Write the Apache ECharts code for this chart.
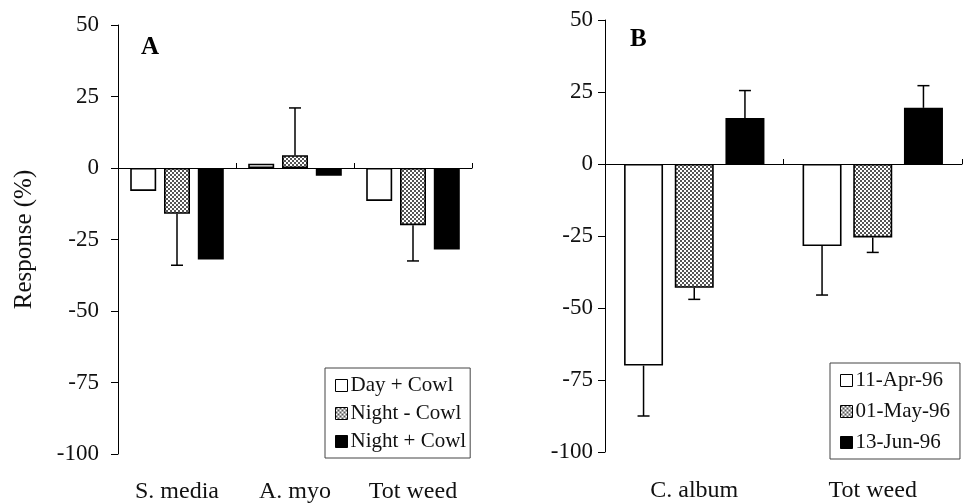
<!DOCTYPE html>
<html>
<head>
<meta charset="utf-8">
<script src="https://cdn.jsdelivr.net/npm/echarts@6/dist/echarts.min.js"></script>
<style>
  html, body { margin: 0; padding: 0; background: #fff; }
  #chart { width: 963px; height: 503px; }
</style>
</head>
<body>
<div id="chart"></div>
<script>
// panel A
const catsA = ['S. media', 'A. myo', 'Tot weed'];
const dayCowl = [-8, 1.5, -11.5];
const nightNoCowl = [-16, 4.5, -20];
const nightCowl = [-32, -2.7, -28.5];
const nightNoCowlErr = [-34, 21, -32.5];

// panel B
const catsB = ['C. album', 'Tot weed'];
const apr11 = [-70, -28.5];
const may01 = [-43, -25.5];
const jun13 = [16, 19.5];
const apr11Err = [-87.5, -45.5];
const may01Err = [-47, -30.7];
const jun13Err = [25.5, 27.2];

const yMin = -100, yMax = 50, yStep = 25;

const serif = 'Liberation Serif';
const ink = '#111';

// stippled fill for the middle series
function makeStipple() {
  const c = document.createElement('canvas');
  c.width = 4; c.height = 4;
  const g = c.getContext('2d');
  g.fillStyle = '#fff';
  g.fillRect(0, 0, 4, 4);
  g.fillStyle = '#555';
  g.fillRect(0, 0, 2, 2);
  g.fillRect(2, 2, 2, 2);
  return c;
}
const stipple = { image: makeStipple(), repeat: 'repeat' };

const fills = ['#fff', stipple, '#000'];

function barSeries(name, data, idx, xi, width) {
  return {
    name: name,
    type: 'bar',
    xAxisIndex: xi,
    yAxisIndex: xi >> 1,
    data: data,
    barWidth: width,
    barGap: '30%',
    itemStyle: { color: fills[idx], borderColor: '#000', borderWidth: 1.6 },
    emphasis: { disabled: true },
    z: 3
  };
}

function errSeries(vals, ends, idx, xi, width, gap) {
  return {
    type: 'custom',
    xAxisIndex: xi,
    yAxisIndex: xi >> 1,
    data: vals.map((v, i) => [i, v, ends[i]]),
    encode: { x: 0, y: [1, 2] },
    z: 4,
    silent: true,
    renderItem: function (params, api) {
      const p0 = api.coord([api.value(0), api.value(1)]);
      const p1 = api.coord([api.value(0), api.value(2)]);
      const x = p0[0] + (idx - 1) * (width + gap);
      const st = { stroke: '#000', lineWidth: 1.5 };
      return {
        type: 'group',
        children: [
          { type: 'line', shape: { x1: x, y1: p0[1], x2: x, y2: p1[1] }, style: st },
          { type: 'line', shape: { x1: x - 6, y1: p1[1], x2: x + 6, y2: p1[1] }, style: st }
        ]
      };
    }
  };
}

function labelAxis(cats, gi, margin) {
  return {
    type: 'category', gridIndex: gi, data: cats, position: 'bottom',
    axisLine: { show: false, onZero: false }, axisTick: { show: false },
    axisLabel: { margin: margin, fontFamily: serif, fontSize: 24, color: ink }
  };
}
function zeroAxis(cats, gi) {
  return {
    type: 'category', gridIndex: gi, data: cats,
    axisLine: { onZero: true, lineStyle: { color: '#000', width: 1 } },
    axisTick: { show: true, length: 5, lineStyle: { color: '#000' } },
    axisLabel: { show: false }
  };
}
function valueAxis(gi, margin, name) {
  return {
    type: 'value', gridIndex: gi, min: yMin, max: yMax, interval: yStep,
    name: name, nameLocation: 'middle', nameRotate: 90, nameGap: 81,
    nameTextStyle: { fontFamily: serif, fontSize: 25, color: ink },
    axisLine: { show: true, lineStyle: { color: '#000', width: 1 } },
    axisTick: { show: true, length: 7, lineStyle: { color: '#000' } },
    splitLine: { show: false },
    axisLabel: { margin: margin, fontFamily: serif, fontSize: 23, color: ink }
  };
}
function legendBox(names, left, top, gap, padRight) {
  return {
    data: names, orient: 'vertical', left: left, top: top,
    icon: 'rect', itemWidth: 12, itemHeight: 12, itemGap: gap,
    padding: [7, padRight, 6, 10],
    borderColor: '#444', borderWidth: 1,
    selectedMode: false,
    textStyle: { fontFamily: serif, fontSize: 21, color: ink, padding: [0, 0, 0, -2] },
    itemStyle: { borderColor: '#000', borderWidth: 1 }
  };
}

const namesA = ['Day + Cowl', 'Night - Cowl', 'Night + Cowl'];
const namesB = ['11-Apr-96', '01-May-96', '13-Jun-96'];

const option = {
  animation: false,
  backgroundColor: '#fff',
  title: [
    { text: 'A', left: 136, top: 30, textStyle: { fontFamily: serif, fontSize: 25, fontWeight: 'bold', color: '#000' } },
    { text: 'B', left: 625, top: 22, textStyle: { fontFamily: serif, fontSize: 25, fontWeight: 'bold', color: '#000' } }
  ],
  grid: [
    { left: 118, top: 25, width: 354, height: 429, outerBoundsMode: 'none' },
    { left: 605, top: 20, width: 357, height: 432, outerBoundsMode: 'none' }
  ],
  xAxis: [
    labelAxis(catsA, 0, 26),
    zeroAxis(catsA, 0),
    labelAxis(catsB, 1, 27),
    zeroAxis(catsB, 1)
  ],
  yAxis: [
    valueAxis(0, 19, 'Response (%)'),
    valueAxis(1, 12, '')
  ],
  legend: [
    legendBox(namesA, 325, 368, 7, 4),
    legendBox(namesB, 830, 363, 10, 10)
  ],
  series: [
    barSeries(namesA[0], dayCowl, 0, 0, 26),
    barSeries(namesA[1], nightNoCowl, 1, 0, 26),
    barSeries(namesA[2], nightCowl, 2, 0, 26),
    errSeries(nightNoCowl, nightNoCowlErr, 1, 0, 26, 8),
    barSeries(namesB[0], apr11, 0, 2, 39),
    barSeries(namesB[1], may01, 1, 2, 39),
    barSeries(namesB[2], jun13, 2, 2, 39),
    errSeries(apr11, apr11Err, 0, 2, 39, 11.7),
    errSeries(may01, may01Err, 1, 2, 39, 11.7),
    errSeries(jun13, jun13Err, 2, 2, 39, 11.7)
  ]
};

const chart = echarts.init(document.getElementById('chart'));
chart.setOption(option);
</script>
</body>
</html>
